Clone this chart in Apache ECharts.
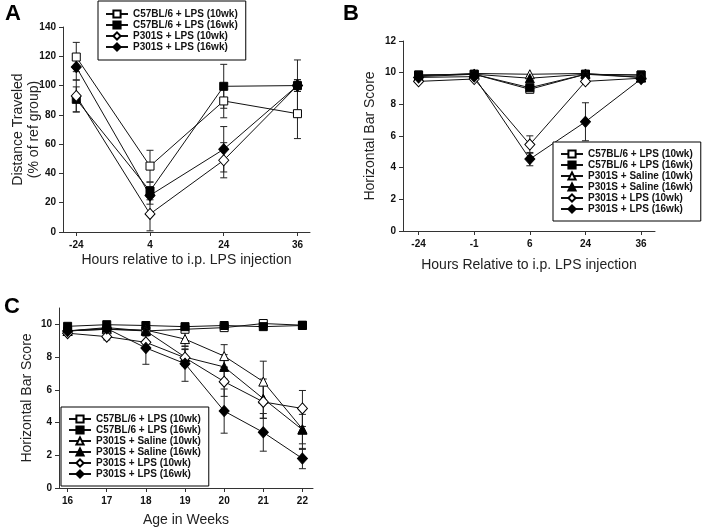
<!DOCTYPE html>
<html>
<head>
<meta charset="utf-8">
<script src="https://cdn.jsdelivr.net/npm/echarts@6/dist/echarts.min.js"></script>
<style>
html,body{margin:0;padding:0;background:#fff;}
#chart{width:702px;height:529px;}
</style>
</head>
<body>
<div id="chart"></div>
<script>
// ---------- DATA ----------
const seriesNames = ['C57BL/6 + LPS (10wk)','C57BL/6 + LPS (16wk)','P301S + Saline (10wk)','P301S + Saline (16wk)','P301S + LPS (10wk)','P301S + LPS (16wk)'];

// Panel A: Distance traveled (% of ref group)
const catsA = ['-24','4','24','36'];
const aC57_10 = [119.5, 45, 89.5, 80.8];
const aC57_16 = [90.6, 28, 99.5, 100];
const aLPS_10 = [92.9, 12.3, 49, 100];
const aLPS_16 = [112.7, 25, 56.5, 100];
const aErrC57_10 = [10, 10.8, 11.5, 17];
const aErrC57_16 = [8.5, 6, 15, 17.5];
const aErrLPS_10 = [11, 11.5, 12, 4];
const aErrLPS_16 = [9, 6, 15.5, 4];
const yTicksA = [0,20,40,60,80,100,120,140];

// Panel B: Horizontal bar score vs hours
const catsB = ['-24','-1','6','24','36'];
const bC57_10 = [9.85, 9.9, 8.95, 9.9, 9.85];
const bC57_16 = [9.85, 9.9, 9.05, 9.9, 9.85];
const bSal_10 = [9.8, 9.95, 9.9, 9.95, 9.7];
const bSal_16 = [9.75, 9.9, 9.65, 9.9, 9.7];
const bLPS_10 = [9.45, 9.6, 5.46, 9.45, 9.65];
const bLPS_16 = [9.7, 9.75, 4.54, 6.9, 9.6];
const bErrLPS_10 = [0.1, 0.1, 0.55, 0.15, 0.1];
const bErrLPS_16 = [0.1, 0.1, 0.42, 1.2, 0.1];
const yTicksB = [0,2,4,6,8,10,12];

// Panel C: Horizontal bar score vs age
const catsC = [16,17,18,19,20,21,22];
const cC57_10 = [9.6, 9.7, 9.6, 9.7, 9.8, 10.05, 9.95];
const cC57_16 = [9.88, 9.98, 9.93, 9.86, 9.93, 9.86, 9.93];
const cSal_10 = [9.6, 9.7, 9.65, 9.1, 8.06, 6.5, 3.6];
const cSal_16 = [9.6, 9.8, 9.6, 8.0, 7.4, 5.46, 3.56];
const cLPS_10 = [9.46, 9.25, 8.9, 7.96, 6.5, 5.26, 4.86];
const cLPS_16 = [9.6, 9.75, 8.56, 7.6, 4.7, 3.4, 1.8];
const cErrSal_10 = [0.1, 0.1, 0.3, 0.45, 0.7, 1.25, 0.9];
const cErrSal_16 = [0.1, 0.1, 0.3, 0.5, 0.75, 1.2, 1.2];
const cErrLPS_10 = [0.1, 0.2, 0.4, 0.5, 0.9, 1.0, 1.1];
const cErrLPS_16 = [0.1, 0.15, 1.0, 1.08, 1.35, 1.15, 0.62];
const yTicksC = [0,2,4,6,8,10];

// ---------- STYLE ----------
const FONT = 'Liberation Sans, Arial, sans-serif';
const markerStyle = {
  'C57BL/6 + LPS (10wk)': {symbol:'rect', size:8, fill:'#fff'},
  'C57BL/6 + LPS (16wk)': {symbol:'rect', size:8, fill:'#000'},
  'P301S + Saline (10wk)': {symbol:'triangle', size:9, fill:'#fff'},
  'P301S + Saline (16wk)': {symbol:'triangle', size:9, fill:'#000'},
  'P301S + LPS (10wk)': {symbol:'diamond', size:[10,11], fill:'#fff'},
  'P301S + LPS (16wk)': {symbol:'diamond', size:[10,11], fill:'#000'}
};

function lineSeries(name, xIdx, xs, ys){
  const m = markerStyle[name];
  return {
    type:'line', name:name, xAxisIndex:xIdx, yAxisIndex:xIdx,
    data: xs.map((x,i)=>[x, ys[i]]),
    symbol:m.symbol, symbolSize:m.size, showSymbol:true,
    lineStyle:{color:'#111', width:1},
    itemStyle:{color:m.fill, borderColor:'#000', borderWidth:1},
    emphasis:{disabled:true}, silent:true, animation:false, z:3
  };
}

function errSeries(xIdx, xs, ys, es){
  const data = [];
  xs.forEach((x,i)=>{ if (es[i] > 0) data.push([x, ys[i], es[i]]); });
  return {
    type:'custom', xAxisIndex:xIdx, yAxisIndex:xIdx, data:data, z:2, silent:true, animation:false,
    encode:{x:0, y:1},
    renderItem:function(params, api){
      const x = api.value(0), y = api.value(1), e = api.value(2);
      const t = api.coord([x, y + e]), b = api.coord([x, y - e]);
      const hw = 3.5;
      const st = {stroke:'#222', lineWidth:1};
      return {type:'group', children:[
        {type:'line', shape:{x1:t[0], y1:t[1], x2:b[0], y2:b[1]}, style:st},
        {type:'line', shape:{x1:t[0]-hw, y1:t[1], x2:t[0]+hw, y2:t[1]}, style:st},
        {type:'line', shape:{x1:b[0]-hw, y1:b[1], x2:b[0]+hw, y2:b[1]}, style:st}
      ]};
    }
  };
}

const axisCommon = {
  axisLine:{show:true, onZero:false, lineStyle:{color:'#333', width:1}},
  axisTick:{show:true, inside:false, length:4, lineStyle:{color:'#333'}},
  splitLine:{show:false},
  axisLabel:{fontFamily:FONT, fontSize:10, fontWeight:'bold', color:'#111'},
  nameTextStyle:{fontFamily:FONT, fontSize:14, color:'#222', lineHeight:16}
};

function xAxis(gridIndex, min, max, tickVals, labels, name, gap, margin){
  return Object.assign({}, axisCommon, {
    type:'value', gridIndex:gridIndex, min:min, max:max,
    name:name, nameLocation:'middle', nameGap:gap,
    axisTick:Object.assign({}, axisCommon.axisTick, {customValues:tickVals}),
    axisLabel:Object.assign({}, axisCommon.axisLabel, {margin:margin, customValues:tickVals,
      formatter:function(v){ const i = tickVals.indexOf(v); return i >= 0 ? String(labels[i]) : ''; }})
  });
}
function yAxis(gridIndex, min, max, tickVals, name, gap, moveOverlap){
  return Object.assign({}, axisCommon, {
    type:'value', gridIndex:gridIndex, min:min, max:max,
    name:name, nameLocation:'middle', nameGap:gap, nameMoveOverlap:moveOverlap,
    axisTick:Object.assign({}, axisCommon.axisTick, {customValues:tickVals}),
    axisLabel:Object.assign({}, axisCommon.axisLabel, {margin:7, customValues:tickVals})
  });
}

const idxA = catsA.map((c,i)=>i);
const idxB = catsB.map((c,i)=>i);

const legendCommon = {
  orient:'vertical', borderColor:'#000', borderWidth:1, backgroundColor:'#fff',
  itemWidth:22, itemHeight:9, itemGap:1, selectedMode:false,
  textStyle:{fontFamily:FONT, fontSize:10, fontWeight:'bold', color:'#111', lineHeight:9}
};

const option = {
  animation:false,
  backgroundColor:'#fff',
  grid:[
    {left:63, top:27, width:247, height:205},
    {left:403, top:41, width:252, height:190},
    {left:59, top:308, width:254, height:183}
  ],
  xAxis:[
    xAxis(0, -0.18, 3.17, idxA, catsA, 'Hours relative to i.p. LPS injection', 20, 8),
    xAxis(1, -0.28, 4.25, idxB, catsB, 'Hours Relative to i.p. LPS injection', 26, 8),
    xAxis(2, 15.78, 22.27, catsC, catsC, 'Age in Weeks', 24, 8)
  ],
  yAxis:[
    yAxis(0, 0, 140, yTicksA, 'Distance Traveled\n(% of ref group)', 21, false),
    yAxis(1, 0, 12, yTicksB, 'Horizontal Bar Score', 25, true),
    yAxis(2, 0, 11, yTicksC, 'Horizontal Bar Score', 24, true)
  ],
  legend:[
    Object.assign({}, legendCommon, {left:98, top:1, padding:[8,8,8,7],
      data:[seriesNames[0], seriesNames[1], seriesNames[4], seriesNames[5]]}),
    Object.assign({}, legendCommon, {left:553, top:142, padding:[7,8,7,7], data:seriesNames}),
    Object.assign({}, legendCommon, {left:61, top:407, padding:[7,8,7,7], data:seriesNames})
  ],
  graphic:[
    {type:'text', left:5, top:3, style:{text:'A', font:'bold 22px '+FONT, fill:'#000'}},
    {type:'text', left:343, top:3, style:{text:'B', font:'bold 22px '+FONT, fill:'#000'}},
    {type:'text', left:4, top:296, style:{text:'C', font:'bold 22px '+FONT, fill:'#000'}}
  ],
  series:[
    errSeries(0, idxA, aC57_10, aErrC57_10),
    errSeries(0, idxA, aC57_16, aErrC57_16),
    errSeries(0, idxA, aLPS_10, aErrLPS_10),
    errSeries(0, idxA, aLPS_16, aErrLPS_16),
    lineSeries(seriesNames[0], 0, idxA, aC57_10),
    lineSeries(seriesNames[1], 0, idxA, aC57_16),
    lineSeries(seriesNames[4], 0, idxA, aLPS_10),
    lineSeries(seriesNames[5], 0, idxA, aLPS_16),

    errSeries(1, idxB, bLPS_10, bErrLPS_10),
    errSeries(1, idxB, bLPS_16, bErrLPS_16),
    lineSeries(seriesNames[0], 1, idxB, bC57_10),
    lineSeries(seriesNames[1], 1, idxB, bC57_16),
    lineSeries(seriesNames[2], 1, idxB, bSal_10),
    lineSeries(seriesNames[3], 1, idxB, bSal_16),
    lineSeries(seriesNames[4], 1, idxB, bLPS_10),
    lineSeries(seriesNames[5], 1, idxB, bLPS_16),

    errSeries(2, catsC, cSal_10, cErrSal_10),
    errSeries(2, catsC, cSal_16, cErrSal_16),
    errSeries(2, catsC, cLPS_10, cErrLPS_10),
    errSeries(2, catsC, cLPS_16, cErrLPS_16),
    lineSeries(seriesNames[0], 2, catsC, cC57_10),
    lineSeries(seriesNames[1], 2, catsC, cC57_16),
    lineSeries(seriesNames[2], 2, catsC, cSal_10),
    lineSeries(seriesNames[3], 2, catsC, cSal_16),
    lineSeries(seriesNames[4], 2, catsC, cLPS_10),
    lineSeries(seriesNames[5], 2, catsC, cLPS_16)
  ]
};

const chart = echarts.init(document.getElementById('chart'), null, {renderer:'canvas'});
chart.setOption(option);
</script>
</body>
</html>
